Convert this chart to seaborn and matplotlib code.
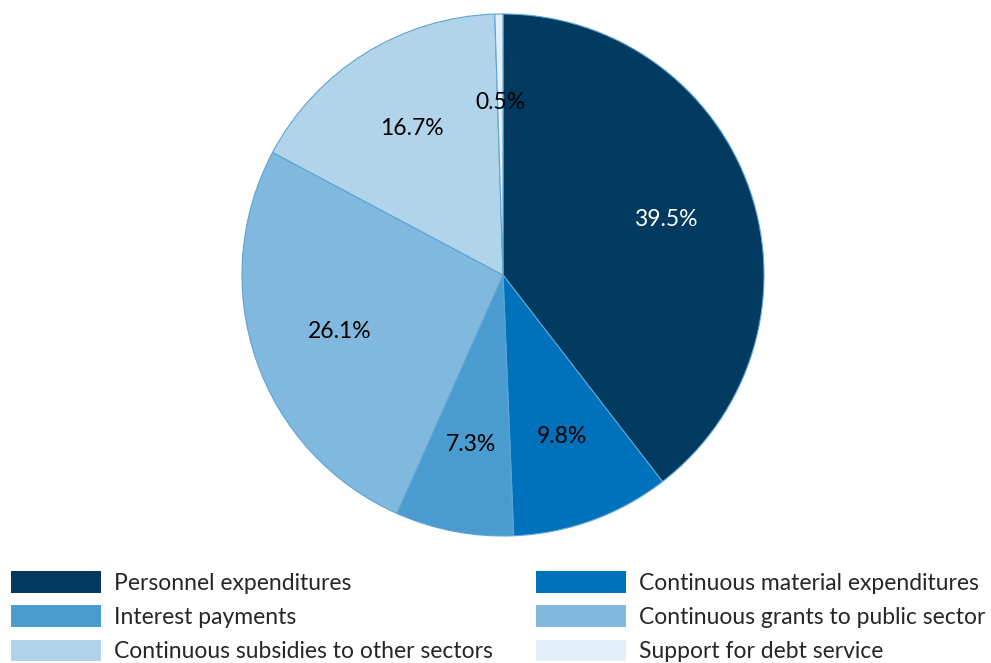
import matplotlib
matplotlib.use("Agg")
import matplotlib.pyplot as plt
from matplotlib.patches import Patch
import seaborn as sns

categories = [
    "Personnel expenditures",
    "Continuous material expenditures",
    "Interest payments",
    "Continuous grants to public sector",
    "Continuous subsidies to other sectors",
    "Support for debt service",
]
shares = [39.5, 9.8, 7.3, 26.1, 16.7, 0.5]
colors = ["#033a5f", "#0072bb", "#4a9cd0", "#80b8de", "#b2d4eb", "#e3eff8"]
label_colors = ["white", "black", "black", "black", "black", "black"]

sns.set_theme(style="white")
plt.rcParams["font.family"] = ["Lato", "DejaVu Sans"]

W, H = 991, 663
fig = plt.figure(figsize=(W / 100, H / 100), dpi=100)
cx, cy, r = 503, 275, 261
ax = fig.add_axes([(cx - r) / W, (H - cy - r) / H, 2 * r / W, 2 * r / H])

wedges, texts, autotexts = ax.pie(
    shares,
    colors=colors,
    startangle=90,
    counterclock=False,
    autopct="%.1f%%",
    pctdistance=0.66,
    wedgeprops=dict(edgecolor="#5aa5d6", linewidth=0.8),
    textprops=dict(fontsize=16.5),
)
for t, c in zip(autotexts, label_colors):
    t.set_color(c)
ax.set_xlim(-1, 1)
ax.set_ylim(-1, 1)
ax.set_aspect("equal")
ax.axis("off")

order = [0, 2, 4, 1, 3, 5]
handles = [Patch(facecolor=colors[i], edgecolor="none") for i in order]
labels = [categories[i] for i in order]
fig.legend(
    handles, labels,
    loc="upper left",
    bbox_to_anchor=(2 / W, (H - 562) / H),
    ncol=2,
    frameon=False,
    fontsize=16.5,
    handlelength=3.93,
    handleheight=1.09,
    handletextpad=0.55,
    labelspacing=0.5,
    columnspacing=1.9,
    borderaxespad=0,
)

fig.savefig("out.png", dpi=100, facecolor="white")
